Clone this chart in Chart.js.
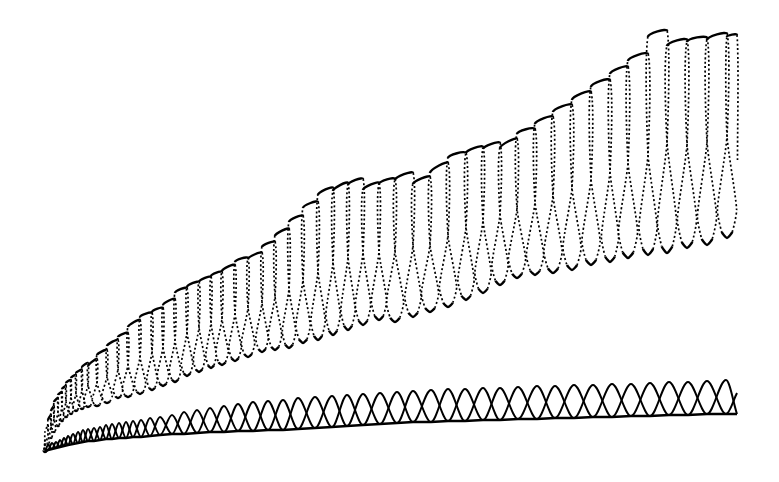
<!DOCTYPE html>
<html>
<head>
<meta charset="utf-8">
<script src="https://cdn.jsdelivr.net/npm/chart.js@4.4.0/dist/chart.umd.min.js"></script>
<style>
html,body{margin:0;padding:0;background:#fff;}
#wrap{width:779px;height:482px;}
</style>
</head>
<body>
<div id="wrap"><canvas id="c" width="779" height="482"></canvas></div>
<script>
// ---------- Upper (oscillating, dotted) series ----------
const junctionX = [0.5,0.8,1.1,1.4,1.8, 2.2,2.6,3.1,3.6,4.2, 4.8,5.7,6.7,7.8,8.8, 10.0,11.2,12.3,13.5,14.7,
  15.9,17.1,18.2,19.5,20.8, 22.2,23.5,24.9,26.3,27.8, 29.3,30.8,32.3,33.9,35.5, 37.3,39.0,40.8,42.6,44.3,
  46.0,47.7,49.5,51.3,53.2, 55.1,57.0,58.8,60.8,62.7, 64.7,66.7,68.7];
const plateauStart = [1.0,2.8,4.0,4.9,5.8, 6.5,7.1,7.7,8.2,8.7, 9.3,9.4,10.5,11.4,12.3, 13.3,14.3,14.8,15.5,16.7,
  17.3,17.8,18.4,18.9,19.8, 20.1,21.3,22.4,23.8,25.2, 26.5,26.9,27.5,27.0,27.6, 28.0,27.6,28.7,30.2,30.7,
  31.1,31.2,32.6,33.6,34.8, 36.0,37.3,38.6,39.9,42.3, 41.4,41.8,42.0, 42.3];
const plateauEnd = [2.0,3.5,4.5,5.4,6.2, 6.8,7.4,8.0,8.5,9.0, 9.7,10.1,11.0,12.0,12.7, 14.0,14.7,15.2,16.1,17.2,
  17.8,18.3,18.8,19.5,20.2, 20.7,21.8,23.1,24.4,25.8, 27.2,27.7,28.1,27.7,28.1, 28.7,28.3,29.7,30.7,31.3,
  31.7,32.1,33.1,34.3,35.5, 36.8,38.0,39.3,40.6,42.9, 42.0,42.2,42.6, 42.5];
const troughY = [0.8,1.6,2.2,2.8,3.4, 3.9,4.3,4.6,4.9,5.1, 5.3,5.4,5.7,6.2,6.3, 6.6,7.0,7.4,7.8,8.4,
  8.8,9.2,9.5,9.9,10.3, 10.8,11.0,11.2,11.7,12.0, 12.5,13.0,13.5,14.0,13.8, 14.3,14.8,15.3,16.0,16.7,
  17.5,18.2,18.5,18.7,19.0, 19.5,19.8,20.2,20.5,20.7, 21.2,21.5,22.2];
const upperStartX = 0.4;
const upperEndX = 69.7;
const upperLastValue = 30.0;

// ---------- Lower (crossing arches) series ----------
const archX = [0.5,0.8,1.2,1.6,2.0, 2.4,2.8,3.3,3.8,4.3, 4.8,5.4,6.0,6.6,7.2, 7.9,8.6,9.3,10.1,11.0,
  12.0,13.2,14.4,15.7,17.0, 18.4,19.8,21.3,22.8,24.3, 25.8,27.5,29.2,30.7,32.3, 34.0,35.7,37.3,39.1,40.8,
  42.5,44.3,46.0,47.8,49.7, 51.5,53.4,55.3,57.2,59.1, 61.0,62.9,64.8,66.7,68.6, 69.7];
const archTop = [1.1,1.5,1.7,1.8,2.0, 2.2,2.4,2.6,2.8,3.0, 3.1,3.2,3.3,3.5,3.6, 3.7,3.8,3.9,4.0,4.2,
  4.3,4.5,4.8,5.0,5.2, 5.4,5.6,5.8,5.9,6.0, 6.2,6.3,6.4,6.5,6.6, 6.7,6.8,6.9,7.0,7.1,
  7.1,7.2,7.2,7.3,7.4, 7.4,7.5,7.5,7.6,7.6, 7.7,7.8,7.8,7.9,8.0, 6.7];
const archBottom = [0.8,1.0,1.1,1.2,1.3, 1.4,1.5,1.6,1.7,1.8, 1.9,1.9,2.0,2.1,2.1, 2.2,2.2,2.3,2.3,2.4,
  2.5,2.6,2.6,2.7,2.8, 2.8,2.9,2.9,3.0,3.0, 3.1,3.2,3.3,3.4,3.5, 3.6,3.7,3.8,3.8,3.9,
  3.9,4.0,4.0,4.1,4.1, 4.2,4.2,4.3,4.3,4.4, 4.4,4.5,4.5,4.6,4.6, 4.6];

// Build the upper path: plateau, then a loop down to each trough and back up.
const upperPts = [{x: upperStartX, y: plateauStart[0]}];
for (let i = 0; i < junctionX.length; i++) {
  const J = junctionX[i];
  const p = i < junctionX.length - 1 ? junctionX[i + 1] - J : J - junctionX[i - 1];
  const d = 0.01 * p, w = 0.48 * p;
  const top = plateauEnd[i], tr = troughY[i];
  const yc = tr + 0.5 * (top - tr);
  const ya = tr + 0.28 * (yc - tr);
  upperPts.push({x: J + d, y: top});
  upperPts.push({x: J, y: yc});
  upperPts.push({x: J - w, y: ya});
  upperPts.push({x: J - 0.55 * w, y: tr + 0.06 * (yc - tr)});
  upperPts.push({x: J, y: tr});
  upperPts.push({x: J + 0.55 * w, y: tr + 0.06 * (yc - tr)});
  upperPts.push({x: J + w, y: ya});
  upperPts.push({x: J, y: yc});
  upperPts.push({x: J - d, y: plateauStart[i + 1]});
}
upperPts.push({x: upperEndX, y: plateauEnd[plateauEnd.length - 1]});
upperPts.push({x: upperEndX + 0.05, y: upperLastValue});

const archA = archX.map((x, k) => ({x, y: k % 2 === 0 ? archTop[k] : archBottom[k]}));
const archB = archX.map((x, k) => ({x, y: k % 2 === 1 ? archTop[k] : archBottom[k]}));
const baseLine = archX.map((x, k) => ({x, y: archBottom[k]}));

const steep = ctx => Math.abs(ctx.p1.y - ctx.p0.y) > 2.2 * Math.abs(ctx.p1.x - ctx.p0.x);

new Chart(document.getElementById('c'), {
  type: 'scatter',
  data: {
    datasets: [
      {
        data: upperPts, showLine: true, borderColor: '#000', borderWidth: 2.4,
        pointRadius: 0, tension: 0.2, fill: false,
        segment: {
          borderDash: ctx => steep(ctx) ? [2, 2.4] : undefined,
          borderWidth: ctx => steep(ctx) ? 1.7 : undefined
        }
      },
      { data: archA, showLine: true, borderColor: '#000', borderWidth: 2, pointRadius: 0, cubicInterpolationMode: 'monotone', fill: false },
      { data: archB, showLine: true, borderColor: '#000', borderWidth: 2, pointRadius: 0, cubicInterpolationMode: 'monotone', fill: false },
      { data: baseLine, showLine: true, borderColor: '#000', borderWidth: 2.5, pointRadius: 0, tension: 0, fill: false }
    ]
  },
  options: {
    responsive: false, animation: false, devicePixelRatio: 1,
    layout: {padding: {left: 40, right: 39, top: 0, bottom: 22}},
    plugins: {legend: {display: false}, tooltip: {enabled: false}, title: {display: false}},
    scales: {
      x: {type: 'linear', min: 0, max: 70, display: false},
      y: {type: 'linear', min: 0, max: 46, display: false}
    }
  }
});
</script>
</body>
</html>
